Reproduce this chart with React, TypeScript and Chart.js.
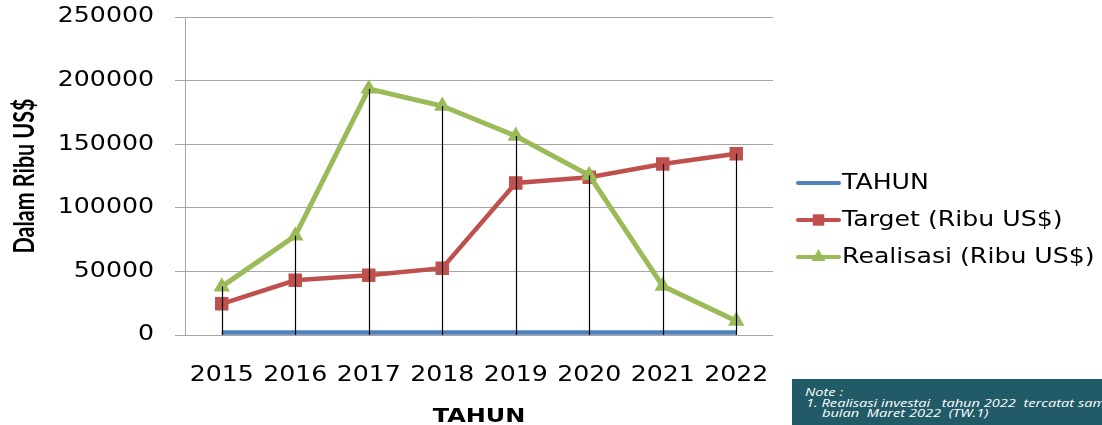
import React, { useEffect, useRef } from 'react';
import { Chart, registerables } from 'chart.js';
import { drawPoint } from 'chart.js/helpers';

Chart.register(...registerables);

const categories = ['2015', '2016', '2017', '2018', '2019', '2020', '2021', '2022'];
const tahunValues = [2015, 2016, 2017, 2018, 2019, 2020, 2021, 2022];
const targetValues = [24500, 43000, 47000, 52500, 119500, 124000, 134500, 142500];
const realisasiValues = [38000, 78000, 193500, 180000, 156500, 125500, 38500, 11000];
const yTicks = [0, 50000, 100000, 150000, 200000, 250000];
const seriesLabels = ['TAHUN', 'Target (Ribu US$)', 'Realisasi (Ribu US$)'];
const seriesColors = ['#4f81bd', '#c0504d', '#9bbb59'];
const xTitle = 'TAHUN';
const yTitle = 'Dalam Ribu US$';
const noteLines = ['Note :', '1. Realisasi investai   tahun 2022  tercatat sampai', 'bulan  Maret 2022  (TW.1)'];

// horizontal widening of the text glyphs, as in the (stretched) original picture
const TEXT_STRETCH = 1.2;

const wideText = {
  id: 'wideText',
  beforeDraw(chart: any) {
    const ctx: any = chart.ctx;
    if (ctx.__wide) return;
    const orig = ctx.fillText;
    ctx.__origFillText = orig;
    ctx.fillText = function (text: string, x: number, y: number, maxWidth?: number) {
      this.save();
      this.translate(x, y);
      this.scale(TEXT_STRETCH, 1);
      if (maxWidth !== undefined) orig.call(this, text, 0, 0, maxWidth / TEXT_STRETCH);
      else orig.call(this, text, 0, 0);
      this.restore();
    };
    ctx.__wide = true;
  },
};

const dropLines = {
  id: 'dropLines',
  afterDatasetsDraw(chart: any) {
    const { ctx, scales } = chart;
    const x = scales.x;
    const y = scales.y;
    const n = chart.data.labels.length;
    ctx.save();
    ctx.strokeStyle = '#000000';
    ctx.lineWidth = 1.2;
    for (let i = 0; i < n; i++) {
      let max = -Infinity;
      chart.data.datasets.forEach((ds: any) => {
        const v = ds.data[i];
        if (typeof v === 'number' && v > max) max = v;
      });
      const px = Math.round(x.getPixelForValue(i)) + 0.5;
      ctx.beginPath();
      ctx.moveTo(px, y.getPixelForValue(max));
      ctx.lineTo(px, y.getPixelForValue(0));
      ctx.stroke();
    }
    ctx.restore();
  },
};

const yTitlePlugin = {
  id: 'yTitlePlugin',
  afterDraw(chart: any, _args: any, opts: any) {
    const ctx: any = chart.ctx;
    const y = chart.scales.y;
    ctx.save();
    ctx.font = opts.font;
    const w = ctx.measureText(opts.text).width;
    const sx = opts.length / w;
    ctx.translate(opts.baselineX, (y.top + y.bottom) / 2);
    ctx.rotate(-Math.PI / 2);
    ctx.scale(sx, 1);
    ctx.fillStyle = '#000000';
    ctx.textAlign = 'center';
    ctx.textBaseline = 'alphabetic';
    const fill = ctx.__origFillText || ctx.fillText;
    fill.call(ctx, opts.text, 0, 0);
    ctx.restore();
  },
};

const sideLegend = {
  id: 'sideLegend',
  afterDraw(chart: any, _args: any, opts: any) {
    const { ctx } = chart;
    const { x0, x1, textX, rows, font } = opts;
    chart.data.datasets.forEach((ds: any, i: number) => {
      const yy = rows[i];
      ctx.save();
      ctx.strokeStyle = ds.borderColor;
      ctx.lineWidth = 4;
      ctx.lineCap = 'round';
      ctx.beginPath();
      ctx.moveTo(x0, yy);
      ctx.lineTo(x1, yy);
      ctx.stroke();
      if (ds.pointRadius > 0) {
        ctx.fillStyle = ds.pointBackgroundColor;
        ctx.strokeStyle = ds.pointBorderColor;
        drawPoint(ctx, { pointStyle: ds.pointStyle, radius: ds.pointRadius * 0.85, borderWidth: 0, rotation: 0 } as any, (x0 + x1) / 2, yy);
      }
      ctx.fillStyle = '#000000';
      ctx.font = font;
      ctx.textBaseline = 'middle';
      ctx.textAlign = 'left';
      ctx.fillText(ds.label, textX, yy + 1);
      ctx.restore();
    });
  },
};

export default function App() {
  const canvasRef = useRef<HTMLCanvasElement | null>(null);

  useEffect(() => {
    if (!canvasRef.current) return;
    const chart = new Chart(canvasRef.current, {
      type: 'line',
      data: {
        labels: categories,
        datasets: [
          {
            label: seriesLabels[0],
            data: tahunValues,
            borderColor: seriesColors[0],
            backgroundColor: seriesColors[0],
            borderWidth: 4.5,
            pointRadius: 0,
            pointStyle: 'circle',
            order: 3,
          },
          {
            label: seriesLabels[1],
            data: targetValues,
            borderColor: seriesColors[1],
            backgroundColor: seriesColors[1],
            borderWidth: 4.5,
            pointStyle: 'rect',
            pointRadius: 9.5,
            pointBackgroundColor: seriesColors[1],
            pointBorderColor: seriesColors[1],
            pointBorderWidth: 0,
            order: 2,
          },
          {
            label: seriesLabels[2],
            data: realisasiValues,
            borderColor: seriesColors[2],
            backgroundColor: seriesColors[2],
            borderWidth: 5,
            pointStyle: 'triangle',
            pointRadius: 9.5,
            pointBackgroundColor: seriesColors[2],
            pointBorderColor: seriesColors[2],
            pointBorderWidth: 0,
            order: 1,
          },
        ] as any,
      },
      options: {
        animation: false,
        responsive: true,
        maintainAspectRatio: false,
        layout: { padding: { top: 17, right: 329, bottom: 0, left: 0 } },
        plugins: {
          legend: { display: false },
          tooltip: { enabled: false },
          sideLegend: {
            x0: 798,
            x1: 839,
            textX: 842,
            rows: [183, 220, 257],
            font: '21px "DejaVu Sans"',
          },
          yTitlePlugin: {
            text: yTitle,
            font: 'bold 28px Lato',
            length: 155,
            baselineX: 34,
          },
        } as any,
        scales: {
          x: {
            offset: true,
            grid: { display: false, drawTicks: false },
            border: { display: false },
            ticks: {
              font: { family: 'DejaVu Sans', size: 21 },
              color: '#000000',
              padding: 28,
              maxRotation: 0,
              autoSkip: false,
            },
            title: {
              display: true,
              text: xTitle,
              font: { family: 'DejaVu Sans', size: 20, weight: 'bold', lineHeight: 0.8 },
              color: '#000000',
              padding: 0,
            },
            afterFit: (s: any) => {
              s.height = 90;
            },
          },
          y: {
            min: 0,
            max: 250000,
            afterBuildTicks: (s: any) => {
              s.ticks = yTicks.map((v) => ({ value: v }));
            },
            ticks: {
              font: { family: 'DejaVu Sans', size: 21 },
              color: '#000000',
              padding: 21,
              callback: (v: any) => String(v),
            },
            grid: { color: '#a6a6a6', lineWidth: 1, tickLength: 10, drawTicks: true },
            border: { display: true, color: '#a6a6a6', width: 1 },
            title: { display: false },
            afterFit: (s: any) => {
              s.width = 185;
              s.paddingTop = 0;
              s.paddingBottom = 0;
            },
          },
        } as any,
      },
      plugins: [wideText, dropLines, yTitlePlugin, sideLegend],
    });
    return () => chart.destroy();
  }, []);

  const lineStyle = (ml: number): React.CSSProperties => ({
    marginLeft: ml,
    transform: 'scaleX(1.27)',
    transformOrigin: 'left center',
  });

  return (
    <div style={{ position: 'fixed', left: 0, top: 0, width: 1102, height: 425, background: '#ffffff', overflow: 'hidden' }}>
      <canvas ref={canvasRef} />
      <div
        style={{
          position: 'absolute',
          left: 792,
          top: 379,
          width: 310,
          height: 46,
          background: '#215b68',
          color: '#ffffff',
          fontFamily: "'Open Sans', sans-serif",
          fontStyle: 'italic',
          fontSize: 11.5,
          lineHeight: '10.5px',
          whiteSpace: 'pre',
          overflow: 'hidden',
          boxSizing: 'border-box',
          paddingTop: 8,
        }}
      >
        <div style={lineStyle(13)}>{noteLines[0]}</div>
        <div style={lineStyle(14)}>{noteLines[1]}</div>
        <div style={lineStyle(30)}>{noteLines[2]}</div>
      </div>
    </div>
  );
}
